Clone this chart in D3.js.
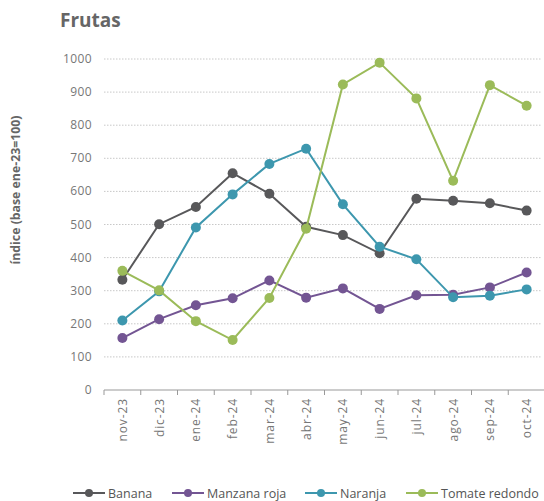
<!DOCTYPE html>
<html>
<head>
<meta charset="utf-8">
<script src="https://cdn.jsdelivr.net/npm/d3@7"></script>
<style>
  body { margin: 0; background: #fff; }
  svg { font-family: "Open Sans", Lato, sans-serif; }
</style>
</head>
<body>
<svg id="chart" width="544" height="501"></svg>
<script>
// months and values
var months = ["nov-23", "dic-23", "ene-24", "feb-24", "mar-24", "abr-24", "may-24", "jun-24", "jul-24", "ago-24", "sep-24", "oct-24"];
var banana = [333, 501, 553, 655, 593, 493, 468, 413, 578, 572, 564, 542];
var manzanaRoja = [157, 214, 256, 277, 331, 279, 307, 245, 286, 288, 310, 355];
var naranja = [210, 298, 491, 591, 683, 729, 561, 433, 395, 280, 285, 304];
var tomateRedondo = [360, 301, 208, 151, 278, 487, 923, 989, 881, 632, 921, 859];
var yTicks = [0, 100, 200, 300, 400, 500, 600, 700, 800, 900, 1000];

var series = [
  { name: "Banana", values: banana, color: "#58585a" },
  { name: "Manzana roja", values: manzanaRoja, color: "#735593" },
  { name: "Naranja", values: naranja, color: "#3d97ae" },
  { name: "Tomate redondo", values: tomateRedondo, color: "#9bbb59" }
];

var svg = d3.select("#chart");

var x = d3.scaleBand().domain(months).range([104, 545]);
var y = d3.scaleLinear().domain([0, 1000]).range([390, 59]);

// title
svg.append("text")
  .attr("x", 60).attr("y", 27)
  .attr("font-size", 19).attr("font-weight", "bold")
  .attr("fill", "#666")
  .text("Frutas");

// gridlines
svg.append("g").selectAll("line")
  .data(yTicks.filter(function (d) { return d > 0; }))
  .enter().append("line")
  .attr("x1", 104).attr("x2", 542)
  .attr("y1", function (d) { return y(d); })
  .attr("y2", function (d) { return y(d); })
  .attr("stroke", "#c8c8c8")
  .attr("stroke-dasharray", "1.5,1.5");

// y labels
svg.append("g").selectAll("text")
  .data(yTicks)
  .enter().append("text")
  .attr("x", 92)
  .attr("y", function (d) { return y(d) + 4; })
  .attr("text-anchor", "end")
  .attr("font-size", 12)
  .attr("letter-spacing", 0.4)
  .attr("fill", "#777")
  .text(function (d) { return d; });

// y title
svg.append("text")
  .attr("transform", "translate(20,190) rotate(-90)")
  .attr("text-anchor", "middle")
  .attr("font-size", 12.3).attr("font-weight", "bold")
  .attr("fill", "#666")
  .text("índice (base ene-23=100)");

// x axis
var xAxis = svg.append("g")
  .attr("transform", "translate(0,390)");
xAxis.append("line")
  .attr("x1", 104).attr("x2", 545)
  .attr("stroke", "#999");
xAxis.selectAll(".tk")
  .data(months)
  .enter().append("line")
  .attr("x1", function (d) { return x(d); })
  .attr("x2", function (d) { return x(d); })
  .attr("y2", 5)
  .attr("stroke", "#999");
xAxis.selectAll("text")
  .data(months)
  .enter().append("text")
  .attr("transform", function (d) {
    return "translate(" + (x(d) + x.bandwidth() / 2 + 4.5) + ",8) rotate(-90)";
  })
  .attr("text-anchor", "end")
  .attr("font-size", 12)
  .attr("letter-spacing", 0.9)
  .attr("fill", "#777")
  .text(function (d) { return d; });

// lines
var line = d3.line()
  .x(function (d, i) { return x(months[i]) + x.bandwidth() / 2; })
  .y(function (d) { return y(d); });

series.forEach(function (s) {
  var g = svg.append("g");
  g.append("path")
    .attr("d", line(s.values))
    .attr("fill", "none")
    .attr("stroke", s.color)
    .attr("stroke-width", 2);
  g.selectAll("circle")
    .data(s.values)
    .enter().append("circle")
    .attr("cx", function (d, i) { return x(months[i]) + x.bandwidth() / 2; })
    .attr("cy", function (d) { return y(d); })
    .attr("r", 5)
    .attr("fill", s.color);
});

// legend
var legX = [73, 172, 305, 406];
var legend = svg.append("g").attr("transform", "translate(0,493)");
series.forEach(function (s, i) {
  var lg = legend.append("g").attr("transform", "translate(" + legX[i] + ",0)");
  lg.append("line").attr("x1", 0).attr("x2", 32)
    .attr("stroke", s.color).attr("stroke-width", 2);
  lg.append("circle").attr("cx", 16).attr("r", 4).attr("fill", s.color);
  lg.append("text").attr("x", 35).attr("y", 4.5)
    .attr("font-size", 12.5).attr("fill", "#555")
    .text(s.name);
});
</script>
</body>
</html>
